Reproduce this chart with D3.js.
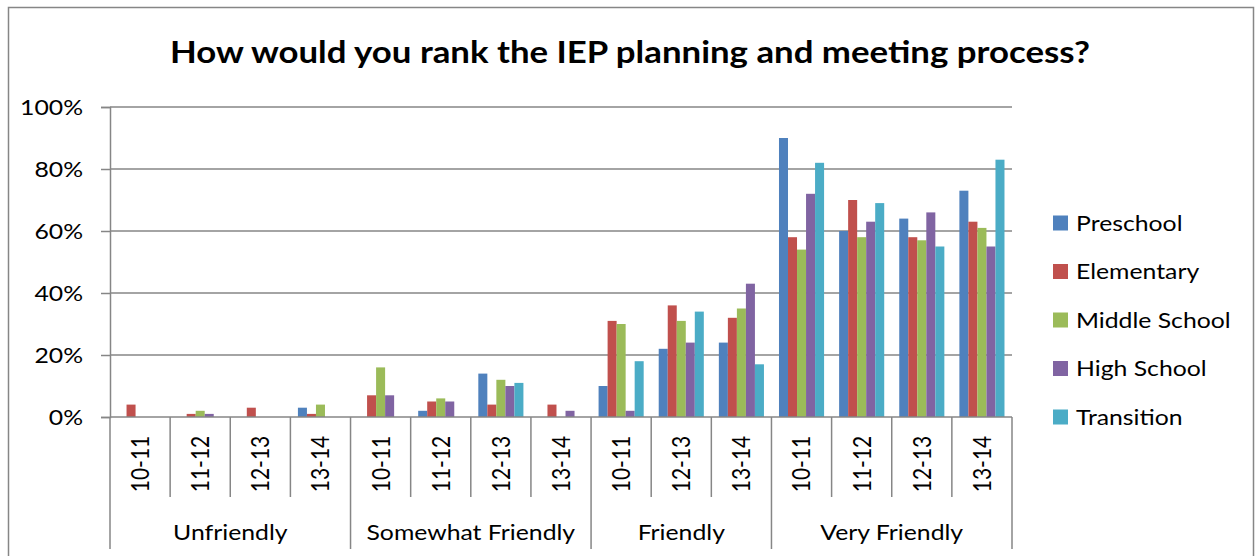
<!DOCTYPE html>
<html>
  <head>
    <meta charset="utf-8"/>
    <style>
      body { margin: 0; background: #fff; }
      text { font-family: Lato, "Noto Sans", sans-serif; fill: #000; }
    </style>
  </head>
  <body>
    <script src="https://d3js.org/d3.v7.min.js"></script>
    <script type="text/javascript">
      var width = 1255, height = 556;

      // data (percent)
      var groups = ["Unfriendly", "Somewhat Friendly", "Friendly", "Very Friendly"];
      var years = [["10-11", "11-12", "12-13", "13-14"],
                   ["10-11", "11-12", "12-13", "13-14"],
                   ["10-11", "12-13", "13-14"],
                   ["10-11", "11-12", "12-13", "13-14"]];
      var seriesNames = ["Preschool", "Elementary", "Middle School", "High School", "Transition"];
      var preschool  = [0, 0, 0, 3,   0, 2, 14, 0,   10, 22, 24,   90, 60, 64, 73];
      var elementary = [4, 1, 3, 1,   7, 5, 4, 4,    31, 36, 32,   58, 70, 58, 63];
      var middle     = [0, 2, 0, 4,   16, 6, 12, 0,  30, 31, 35,   54, 58, 57, 61];
      var high       = [0, 1, 0, 0,   7, 5, 10, 2,   2, 24, 43,    72, 63, 66, 55];
      var transition = [0, 0, 0, 0,   0, 0, 11, 0,   18, 34, 17,   82, 69, 55, 83];
      var yTicks = [0, 20, 40, 60, 80, 100];
      var colors = ["#4F81BD", "#C0504D", "#9BBB59", "#8064A2", "#4BACC6"];

      var values = [preschool, elementary, middle, high, transition];

      // flat list of categories
      var cats = [];
      groups.forEach(function(g, gi) {
        years[gi].forEach(function(yr) { cats.push({group: g, gi: gi, year: yr, key: g + "|" + yr}); });
      });

      var plotL = 110, plotR = 1012, plotT = 107, plotB = 417;
      var grey = "#868686";
      var fs = 21, stretch = 1.18;   // the picture is a bit wider than tall

      var svg = d3.select("body").append("svg")
                  .attr("width", width)
                  .attr("height", height);

      function label(px, py, str, anchor, size) {
        return svg.append("text")
           .attr("transform", "translate(" + px + "," + py + ") scale(" + stretch + ",1)")
           .attr("text-anchor", anchor)
           .attr("font-size", size || fs)
           .text(str);
      }

      svg.append("rect")
         .attr("x", 8.5).attr("y", 7.5)
         .attr("width", 1245).attr("height", 580)
         .attr("fill", "#fff")
         .attr("stroke", grey).attr("stroke-width", 1.5);

      var x = d3.scaleBand().domain(cats.map(function(c) { return c.key; }))
                .range([plotL, plotR]).padding(0);
      var xs = d3.scaleBand().domain(seriesNames)
                 .range([x.bandwidth() * 0.125, x.bandwidth() * 0.875]).padding(0);
      var y = d3.scaleLinear().domain([0, 100]).range([plotB, plotT]);

      // gridlines
      svg.append("g").selectAll("line")
         .data(yTicks.slice(1))
         .enter().append("line")
         .attr("x1", plotL).attr("x2", plotR)
         .attr("y1", function(d) { return y(d); })
         .attr("y2", function(d) { return y(d); })
         .attr("stroke", grey).attr("stroke-width", 1.5);

      // y axis
      var yAxis = svg.append("g")
         .attr("transform", "translate(" + plotL + ",0)")
         .call(d3.axisLeft(y).tickValues(yTicks).tickSize(9).tickFormat(""));
      yAxis.select(".domain").attr("stroke", grey).attr("stroke-width", 1.5);
      yAxis.selectAll(".tick line").attr("stroke", grey).attr("stroke-width", 1.5);
      yTicks.forEach(function(t) {
        label(83, y(t), t + "%", "end").attr("dy", "0.36em");
      });

      // bars
      seriesNames.forEach(function(s, si) {
        svg.append("g").selectAll("rect")
           .data(cats)
           .enter().append("rect")
           .attr("x", function(c) { return x(c.key) + xs(s); })
           .attr("width", xs.bandwidth())
           .attr("y", function(c, i) { return y(values[si][i]); })
           .attr("height", function(c, i) { return plotB - y(values[si][i]); })
           .attr("fill", colors[si]);
      });

      // x axis line
      svg.append("line")
         .attr("x1", plotL).attr("x2", plotR)
         .attr("y1", plotB).attr("y2", plotB)
         .attr("stroke", grey).attr("stroke-width", 1.5);

      // category ticks and labels
      var firstInGroup = {};
      cats.forEach(function(c, i) { if (!(c.gi in firstInGroup)) firstInGroup[c.gi] = i; });
      cats.forEach(function(c, i) {
        var x0 = x(c.key);
        var isGroupStart = firstInGroup[c.gi] === i;
        svg.append("line")
           .attr("x1", x0).attr("x2", x0)
           .attr("y1", plotB).attr("y2", isGroupStart ? 549 : 497)
           .attr("stroke", grey).attr("stroke-width", 1.5);
        svg.append("text")
           .attr("transform", "translate(" + (x0 + x.bandwidth() / 2) + ",464) scale(" + stretch + ",1) rotate(-90)")
           .attr("text-anchor", "middle")
           .attr("dy", "0.36em")
           .attr("font-size", fs)
           .text(c.year);
      });
      svg.append("line")
         .attr("x1", plotR).attr("x2", plotR)
         .attr("y1", plotB).attr("y2", 549)
         .attr("stroke", grey).attr("stroke-width", 1.5);

      // group labels
      groups.forEach(function(g, gi) {
        var ks = cats.filter(function(c) { return c.gi === gi; });
        var a = x(ks[0].key), b = x(ks[ks.length - 1].key) + x.bandwidth();
        label((a + b) / 2, 540, g, "middle");
      });

      // title
      svg.append("text")
         .attr("x", 630).attr("y", 63)
         .attr("text-anchor", "middle")
         .attr("font-size", 30).attr("font-weight", "bold")
         .attr("textLength", 920).attr("lengthAdjust", "spacingAndGlyphs")
         .text("How would you rank the IEP planning and meeting process?");

      // legend
      seriesNames.forEach(function(s, i) {
        var ly = 223 + i * 48.5;
        svg.append("rect")
           .attr("x", 1053).attr("y", ly - 7.5)
           .attr("width", 15).attr("height", 15)
           .attr("fill", colors[i]);
        label(1076, ly, s, "start").attr("dy", "0.36em");
      });
    </script>
  </body>
</html>
